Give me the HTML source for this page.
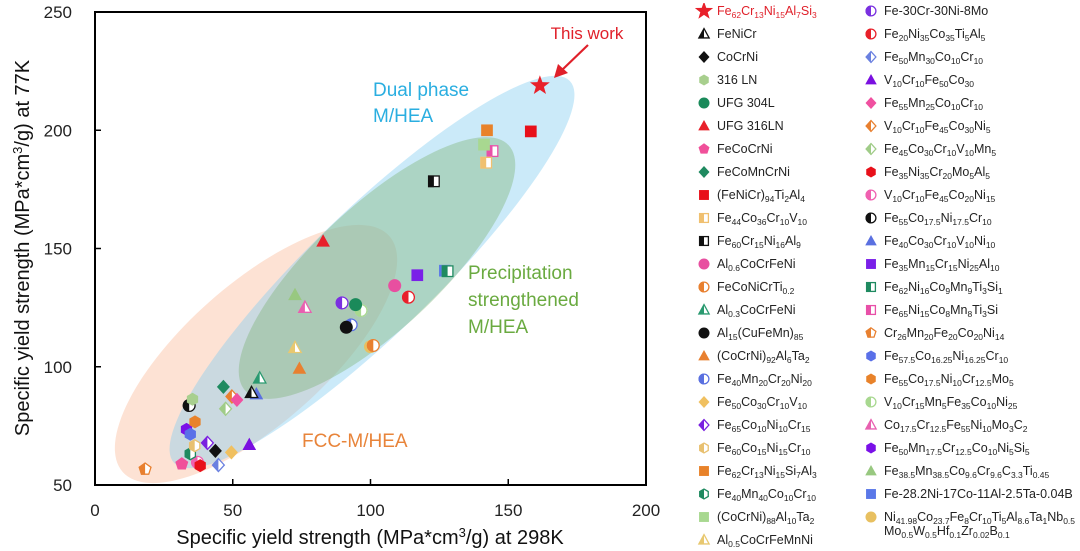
<!DOCTYPE html>
<html><head><meta charset="utf-8">
<style>
body{margin:0;background:#fff;width:1080px;height:551px;overflow:hidden;font-family:"Liberation Sans",Arial,sans-serif;}
#chart{position:absolute;left:0;top:0;}
.leg{position:absolute;font-size:12.5px;color:#222;white-space:nowrap;line-height:14px;}
.leg sub{font-size:8.5px;vertical-align:-3px;line-height:0;}
.leg svg{position:absolute;left:-22px;top:-1px;}
</style></head>
<body>
<svg id="chart" width="1080" height="551">
<defs><clipPath id="lefthalf" clipPathUnits="userSpaceOnUse"><rect x="-20" y="-20" width="20" height="40"/></clipPath></defs>
<g id="ellipses">
<ellipse cx="256" cy="354" rx="178" ry="70" transform="rotate(-41.5 256 354)" fill="rgba(250,190,160,0.45)"/>
<ellipse cx="372" cy="272" rx="275" ry="62" transform="rotate(-44 372 272)" fill="rgba(130,205,240,0.42)"/>
<ellipse cx="377" cy="268" rx="180" ry="62" transform="rotate(-43 377 268)" fill="rgba(120,175,110,0.38)"/>
</g>
<g id="marks"></g>
<rect x="95" y="12" width="551" height="473" fill="none" stroke="#000" stroke-width="2"/>
<g id="axes"></g>
<text x="370" y="544" font-size="20" text-anchor="middle" fill="#111">Specific yield strength (MPa*cm<tspan dy="-7" font-size="13">3</tspan><tspan dy="7">/g) at 298K</tspan></text>
<text transform="translate(29,248) rotate(-90)" font-size="20" text-anchor="middle" fill="#111">Specific yield strength (MPa*cm<tspan dy="-7" font-size="13">3</tspan><tspan dy="7">/g) at 77K</tspan></text>
<text x="587" y="39" font-size="17" text-anchor="middle" fill="#e0202a">This work</text>
<line x1="588" y1="45" x2="562" y2="70" stroke="#e0202a" stroke-width="2.2"/>
<polygon points="554,78 558,64 568,73" fill="#e0202a"/>
<text x="373" y="96" font-size="19" fill="#2aaee0">Dual phase</text>
<text x="373" y="122" font-size="19" fill="#2aaee0">M/HEA</text>
<text x="468" y="279" font-size="19" fill="#6aaa40">Precipitation</text>
<text x="468" y="306" font-size="19" fill="#6aaa40">strengthened</text>
<text x="468" y="333" font-size="19" fill="#6aaa40">M/HEA</text>
<text x="302" y="447" font-size="19" fill="#e8843a">FCC-M/HEA</text>
</svg>
<div id="legend"></div>
<script>
const names=["Fe<sub>62</sub>Cr<sub>13</sub>Ni<sub>15</sub>Al<sub>7</sub>Si<sub>3</sub>","FeNiCr","CoCrNi","316 LN","UFG 304L","UFG 316LN","FeCoCrNi","FeCoMnCrNi","(FeNiCr)<sub>94</sub>Ti<sub>2</sub>Al<sub>4</sub>","Fe<sub>44</sub>Co<sub>36</sub>Cr<sub>10</sub>V<sub>10</sub>","Fe<sub>60</sub>Cr<sub>15</sub>Ni<sub>16</sub>Al<sub>9</sub>","Al<sub>0.6</sub>CoCrFeNi","FeCoNiCrTi<sub>0.2</sub>","Al<sub>0.3</sub>CoCrFeNi","Al<sub>15</sub>(CuFeMn)<sub>85</sub>","(CoCrNi)<sub>92</sub>Al<sub>6</sub>Ta<sub>2</sub>","Fe<sub>40</sub>Mn<sub>20</sub>Cr<sub>20</sub>Ni<sub>20</sub>","Fe<sub>50</sub>Co<sub>30</sub>Cr<sub>10</sub>V<sub>10</sub>","Fe<sub>65</sub>Co<sub>10</sub>Ni<sub>10</sub>Cr<sub>15</sub>","Fe<sub>60</sub>Co<sub>15</sub>Ni<sub>15</sub>Cr<sub>10</sub>","Fe<sub>62</sub>Cr<sub>13</sub>Ni<sub>15</sub>Si<sub>7</sub>Al<sub>3</sub>","Fe<sub>40</sub>Mn<sub>40</sub>Co<sub>10</sub>Cr<sub>10</sub>","(CoCrNi)<sub>88</sub>Al<sub>10</sub>Ta<sub>2</sub>","Al<sub>0.5</sub>CoCrFeMnNi",
"Fe-30Cr-30Ni-8Mo","Fe<sub>20</sub>Ni<sub>35</sub>Co<sub>35</sub>Ti<sub>5</sub>Al<sub>5</sub>","Fe<sub>50</sub>Mn<sub>30</sub>Co<sub>10</sub>Cr<sub>10</sub>","V<sub>10</sub>Cr<sub>10</sub>Fe<sub>50</sub>Co<sub>30</sub>","Fe<sub>55</sub>Mn<sub>25</sub>Co<sub>10</sub>Cr<sub>10</sub>","V<sub>10</sub>Cr<sub>10</sub>Fe<sub>45</sub>Co<sub>30</sub>Ni<sub>5</sub>","Fe<sub>45</sub>Co<sub>30</sub>Cr<sub>10</sub>V<sub>10</sub>Mn<sub>5</sub>","Fe<sub>35</sub>Ni<sub>35</sub>Cr<sub>20</sub>Mo<sub>5</sub>Al<sub>5</sub>","V<sub>10</sub>Cr<sub>10</sub>Fe<sub>45</sub>Co<sub>20</sub>Ni<sub>15</sub>","Fe<sub>55</sub>Co<sub>17.5</sub>Ni<sub>17.5</sub>Cr<sub>10</sub>","Fe<sub>40</sub>Co<sub>30</sub>Cr<sub>10</sub>V<sub>10</sub>Ni<sub>10</sub>","Fe<sub>35</sub>Mn<sub>15</sub>Cr<sub>15</sub>Ni<sub>25</sub>Al<sub>10</sub>","Fe<sub>62</sub>Ni<sub>16</sub>Co<sub>9</sub>Mn<sub>9</sub>Ti<sub>3</sub>Si<sub>1</sub>","Fe<sub>65</sub>Ni<sub>15</sub>Co<sub>8</sub>Mn<sub>8</sub>Ti<sub>3</sub>Si","Cr<sub>26</sub>Mn<sub>20</sub>Fe<sub>20</sub>Co<sub>20</sub>Ni<sub>14</sub>","Fe<sub>57.5</sub>Co<sub>16.25</sub>Ni<sub>16.25</sub>Cr<sub>10</sub>","Fe<sub>55</sub>Co<sub>17.5</sub>Ni<sub>10</sub>Cr<sub>12.5</sub>Mo<sub>5</sub>","V<sub>10</sub>Cr<sub>15</sub>Mn<sub>5</sub>Fe<sub>35</sub>Co<sub>10</sub>Ni<sub>25</sub>","Co<sub>17.5</sub>Cr<sub>12.5</sub>Fe<sub>55</sub>Ni<sub>10</sub>Mo<sub>3</sub>C<sub>2</sub>","Fe<sub>50</sub>Mn<sub>17.5</sub>Cr<sub>12.5</sub>Co<sub>10</sub>Ni<sub>5</sub>Si<sub>5</sub>","Fe<sub>38.5</sub>Mn<sub>38.5</sub>Co<sub>9.6</sub>Cr<sub>9.6</sub>C<sub>3.3</sub>Ti<sub>0.45</sub>","Fe-28.2Ni-17Co-11Al-2.5Ta-0.04B","Ni<sub>41.98</sub>Co<sub>23.7</sub>Fe<sub>8</sub>Cr<sub>10</sub>Ti<sub>5</sub>Al<sub>8.6</sub>Ta<sub>1</sub>Nb<sub>0.5</sub><br>Mo<sub>0.5</sub>W<sub>0.5</sub>Hf<sub>0.1</sub>Zr<sub>0.02</sub>B<sub>0.1</sub>"];
const xVals=[161.5,56.8,43.7,35.4,94.6,82.8,31.5,46.6,158.2,142,123,108.8,101,59.8,91.2,74.2,93,49.5,40.8,36.2,142.3,34.6,141.2,72.6,
89.7,113.8,44.8,56,51.5,49.7,47.4,38.2,37.2,34.2,58.6,117,128,144.3,18.2,34.6,36.3,96.6,76.2,33.2,72.6,127,100];
const yVals=[218.9,89,64.4,86.3,126.3,153,58.9,91.5,199.5,186.3,178.4,134.3,109,95.1,116.7,99.2,117.7,63.8,67.8,66.6,200,63.2,193.9,108,
127,129.4,58.4,67,86,87.4,82.2,58.2,59.6,83.6,88.4,138.7,140.4,191.2,56.7,71.5,76.7,123.8,125,73.5,130.4,140.6,108.5];
const shapes=["star","tri","dia","hex","cir","tri","pent","dia","sq","sq","sq","cir","cir","tri","cir","tri","cir","dia","dia","hex","sq","hex","sq","tri",
"cir","cir","dia","tri","dia","dia","dia","hex","cir","cir","tri","sq","sq","sq","pent","hex","hex","cir","tri","hex","tri","sq","cir"];
const fills=["f","h","f","f","f","f","f","f","f","h","h","f","h","h","f","f","h","f","h","h","f","h","f","h",
"h","h","h","f","f","h","h","f","h","h","f","f","h","h","h","f","f","h","h","f","f","f","f"];
const colors=["#e8202a","#111","#111","#a8cf8e","#1a8a5a","#e8202a","#f0509a","#1f8a60","#e8101a","#f0c070","#111","#e84fa0","#e88030","#2a9a70","#111","#e88030","#5a70e0","#f0c060","#7a20e0","#e8c070","#e8822a","#1f8a60","#a8d890","#e8c870",
"#7a30e0","#e8202a","#6a80e0","#7a10e0","#f050a0","#e88030","#a0cc88","#e8101a","#f060b0","#111","#5a70e0","#7a20e8","#1f8a60","#e850a8","#e88030","#5a70e8","#e8822a","#a8d890","#e860b0","#7a10e8","#98c880","#5a78e8","#e8c060"];
const X0=95,X1=646,Y0=485,Y1=12;
function xs(v){return X0+v/200*(X1-X0);}
function ys(v){return Y0-(v-50)/200*(Y0-Y1);}
const NS="http://www.w3.org/2000/svg";
function shapeEl(s,r){
  let e;
  const poly=(pts)=>{e=document.createElementNS(NS,"polygon");e.setAttribute("points",pts.map(p=>p[0].toFixed(2)+","+p[1].toFixed(2)).join(" "));};
  if(s==="cir"){e=document.createElementNS(NS,"circle");e.setAttribute("r",r);}
  else if(s==="sq"){e=document.createElementNS(NS,"rect");e.setAttribute("x",-r*0.9);e.setAttribute("y",-r*0.9);e.setAttribute("width",r*1.8);e.setAttribute("height",r*1.8);}
  else if(s==="tri"){poly([[0,-r*1.1],[r*1.05,r*0.8],[-r*1.05,r*0.8]]);}
  else if(s==="dia"){poly([[0,-r*1.1],[r,0],[0,r*1.1],[-r,0]]);}
  else if(s==="hex"){const p=[];for(let i=0;i<6;i++){const a=Math.PI/180*(60*i-90);p.push([r*Math.cos(a),r*Math.sin(a)]);}poly(p);}
  else if(s==="pent"){const p=[];for(let i=0;i<5;i++){const a=Math.PI/180*(72*i-90);p.push([r*1.05*Math.cos(a),r*1.05*Math.sin(a)]);}poly(p);}
  else if(s==="star"){const p=[];for(let i=0;i<10;i++){const a=Math.PI/180*(36*i-90);const rr=i%2?r*0.65:r*1.6;p.push([rr*Math.cos(a),rr*Math.sin(a)]);}poly(p);}
  return e;
}
function drawMarker(g,s,f,c,r){
  if(f==="f"){const e=shapeEl(s,r);e.setAttribute("fill",c);g.appendChild(e);}
  else{
    const b=shapeEl(s,r);b.setAttribute("fill","#fff");g.appendChild(b);
    const h=shapeEl(s,r);h.setAttribute("fill",c);h.setAttribute("clip-path","url(#lefthalf)");g.appendChild(h);
    const o=shapeEl(s,r-0.6);o.setAttribute("fill","none");o.setAttribute("stroke",c);o.setAttribute("stroke-width","1.3");g.appendChild(o);
  }
}
const marks=document.getElementById("marks");
for(let i=xVals.length-1;i>=0;i--){
  const g=document.createElementNS(NS,"g");
  g.setAttribute("transform","translate("+xs(xVals[i]).toFixed(1)+","+ys(yVals[i]).toFixed(1)+")");
  
  
  drawMarker(g,shapes[i],fills[i],colors[i],6.5);
  marks.appendChild(g);
}
const xTicks=[0,50,100,150,200];
const yTicks=[50,100,150,200,250];
const axes=document.getElementById("axes");
xTicks.forEach(t=>{
  const l=document.createElementNS(NS,"line");
  l.setAttribute("x1",xs(t));l.setAttribute("x2",xs(t));l.setAttribute("y1",Y0);l.setAttribute("y2",Y0-6);l.setAttribute("stroke","#000");l.setAttribute("stroke-width","1.5");
  
  
  axes.appendChild(l);
  const tx=document.createElementNS(NS,"text");
  tx.setAttribute("x",xs(t));tx.setAttribute("y",516);tx.setAttribute("font-size","17");tx.setAttribute("text-anchor","middle");tx.setAttribute("fill","#222");
  tx.textContent=t;
  
  
  axes.appendChild(tx);
});
yTicks.forEach(t=>{
  const l=document.createElementNS(NS,"line");
  l.setAttribute("x1",X0);l.setAttribute("x2",X0+6);l.setAttribute("y1",ys(t));l.setAttribute("y2",ys(t));l.setAttribute("stroke","#000");l.setAttribute("stroke-width","1.5");
  
  
  axes.appendChild(l);
  const tx=document.createElementNS(NS,"text");
  tx.setAttribute("x",72);tx.setAttribute("y",ys(t)+6);tx.setAttribute("font-size","17");tx.setAttribute("text-anchor","end");tx.setAttribute("fill","#222");
  tx.textContent=t;
  
  
  axes.appendChild(tx);
});
const leg=document.getElementById("legend");
for(let i=0;i<names.length;i++){
  const col=i<24?0:1, row=i<24?i:i-24;
  const d=document.createElement("div");
  d.className="leg";
  d.style.left=(col?884:717)+"px";
  d.style.top=(4+row*23.0)+"px";
  d.innerHTML=names[i];
  if(i===0)d.style.color="#e0202a";
  
  
  const sv=document.createElementNS(NS,"svg");
  sv.setAttribute("width","18");sv.setAttribute("height","18");
  const g=document.createElementNS(NS,"g");g.setAttribute("transform","translate(9,8)");
  drawMarker(g,shapes[i],fills[i],colors[i],i===0?6:5.5);
  sv.appendChild(g);
  d.appendChild(sv);
  leg.appendChild(d);
}
</script>
</body></html>
